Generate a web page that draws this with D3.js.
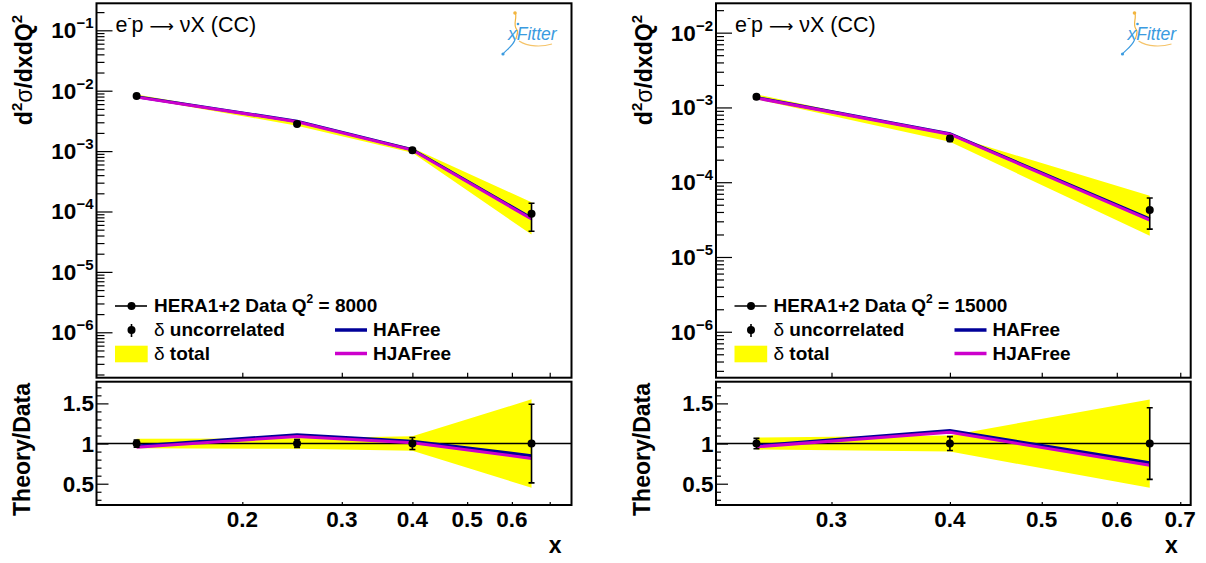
<!DOCTYPE html>
<html><head><meta charset="utf-8">
<script src="https://cdn.jsdelivr.net/npm/d3@7"></script>
<style>body{margin:0;background:#fff} text{font-family:"Liberation Sans",Arial,Helvetica,sans-serif}</style>
</head><body><svg id="c" width="1206" height="563"></svg>
<script>
// ---------- data: Q2 = 8000 ----------
const x8 = [0.13, 0.25, 0.40, 0.65];
const data8 = [8.2e-3, 2.82e-3, 1.03e-3, 9.2e-5];
const uncorr8 = [3.7e-4, 1.4e-4, 7.7e-5, 4.5e-5];
const total8 = [4.9e-4, 1.83e-4, 9.3e-5, 5.06e-5];
const haFree8 = [7.95e-3, 3.13e-3, 1.061e-3, 7.8e-5];
const hjaFree8 = [7.83e-3, 3.07e-3, 1.04e-3, 7.5e-5];
const xTicks8 = [0.2, 0.3, 0.4, 0.5, 0.6, 0.7];
const xLabels8 = ["0.2", "0.3", "0.4", "0.5", "0.6", ""];
const yExp8 = [-1, -2, -3, -4, -5, -6];

// ---------- data: Q2 = 15000 ----------
const x15 = [0.25, 0.40, 0.65];
const data15 = [1.39e-3, 3.85e-4, 4.26e-5];
const uncorr15 = [9.0e-5, 3.3e-5, 1.9e-5];
const total15 = [1.04e-4, 3.85e-5, 2.34e-5];
const haFree15 = [1.355e-3, 4.47e-4, 3.24e-5];
const hjaFree15 = [1.334e-3, 4.39e-4, 3.11e-5];
const xTicks15 = [0.3, 0.4, 0.5, 0.6, 0.7];
const xLabels15 = ["0.3", "0.4", "0.5", "0.6", "0.7"];
const yExp15 = [-2, -3, -4, -5, -6];

const ratioTicks = [0.5, 1, 1.5];
const ratioLabels = ["0.5", "1", "1.5"];
const ratioMinor = [0.3,0.4,0.6,0.7,0.8,0.9,1.1,1.2,1.3,1.4,1.6,1.7];

const svg = d3.select("#c");
const C_HA = "#000099", C_HJA = "#cc00cc", C_BAND = "#ffff00";

function panel(cfg) {
  const L = cfg.L, R = cfg.R, dx = cfg.dx;
  const T1 = 3.3, B1 = 377.7, T2 = 381.7, B2 = 505;
  const xs = d3.scaleLog().domain(cfg.xDomain).range([L, R]);
  const ys = d3.scaleLog().domain(cfg.yDomain).range([B1, T1]);
  const yr = d3.scaleLinear().domain([0.235, 1.77]).range([B2, T2]);
  const pts = cfg.x.map((x, i) => ({x, v: cfg.data[i], u: cfg.uncorr[i], t: cfg.total[i], ha: cfg.ha[i], hja: cfg.hja[i]}));
  const g = svg.append("g");
  const cid = "clip" + dx;
  const defs = svg.append("defs");
  defs.append("clipPath").attr("id", cid + "a").append("rect").attr("x", L).attr("y", T1).attr("width", R - L).attr("height", B1 - T1);
  defs.append("clipPath").attr("id", cid + "b").append("rect").attr("x", L).attr("y", T2).attr("width", R - L).attr("height", B2 - T2);

  // ---- top panel ----
  const top = g.append("g").attr("clip-path", `url(#${cid}a)`);
  top.append("path").datum(pts).attr("fill", C_BAND)
    .attr("d", d3.area().x(d => xs(d.x)).y0(d => ys(d.v - d.t)).y1(d => ys(d.v + d.t)));
  top.append("path").datum(pts).attr("fill", "none").attr("stroke", C_HA).attr("stroke-width", 3)
    .attr("d", d3.line().x(d => xs(d.x)).y(d => ys(d.ha)));
  top.append("path").datum(pts).attr("fill", "none").attr("stroke", C_HJA).attr("stroke-width", 3)
    .attr("d", d3.line().x(d => xs(d.x)).y(d => ys(d.hja)));
  pts.forEach(d => {
    const cx = xs(d.x), y1 = ys(d.v + d.u), y2 = ys(d.v - d.u);
    top.append("line").attr("x1", cx).attr("x2", cx).attr("y1", y1).attr("y2", y2).attr("stroke", "#000").attr("stroke-width", 1.6);
    [y1, y2].forEach(yy => top.append("line").attr("x1", cx - 3).attr("x2", cx + 3).attr("y1", yy).attr("y2", yy).attr("stroke", "#000").attr("stroke-width", 1.6));
    top.append("circle").attr("cx", cx).attr("cy", ys(d.v)).attr("r", 4).attr("fill", "#000");
  });

  // y axis top
  const majors = cfg.yExp.map(e => Math.pow(10, e));
  const minors = [];
  for (let e = -7; e <= 0; e++) for (let k = 2; k <= 9; k++) {
    const v = k * Math.pow(10, e);
    if (v > cfg.yDomain[0] && v < cfg.yDomain[1]) minors.push(v);
  }
  const ax1 = g.append("g").attr("transform", `translate(${L},0)`)
    .call(d3.axisRight(ys).tickValues(majors).tickSize(16).tickFormat(""));
  const ax1m = g.append("g").attr("transform", `translate(${L},0)`)
    .call(d3.axisRight(ys).tickValues(minors).tickSize(8).tickFormat(""));
  [ax1, ax1m].forEach(a => { a.select(".domain").remove(); a.selectAll("line").attr("stroke", "#000").attr("stroke-width", 1.2); });
  cfg.yExp.forEach(e => {
    const y = ys(Math.pow(10, e));
    const t = g.append("text").attr("x", L - 3).attr("y", y + 8).attr("text-anchor", "end")
      .attr("font-weight", "bold").attr("font-size", 22.5);
    t.append("tspan").text("10");
    t.append("tspan").attr("font-size", 15).attr("dy", -10).text("\u2212" + Math.abs(e));
  });
  // x ticks top panel
  const ax2 = g.append("g").attr("transform", `translate(0,${B1})`)
    .call(d3.axisTop(xs).tickValues(cfg.xTicks).tickSize(5).tickFormat(""));
  ax2.select(".domain").remove(); ax2.selectAll("line").attr("stroke", "#000").attr("stroke-width", 1.2);

  g.append("rect").attr("x", L).attr("y", T1).attr("width", R - L).attr("height", B1 - T1)
    .attr("fill", "none").attr("stroke", "#000").attr("stroke-width", 2);

  // process label
  const pl = g.append("text").attr("x", L + 19).attr("y", 32).attr("font-size", 21.5);
  pl.append("tspan").text("e");
  pl.append("tspan").attr("font-size", 12).attr("dy", -10).text("-");
  pl.append("tspan").attr("dy", 10).text("p ");
  pl.append("tspan").attr("style", "font-family:'DejaVu Sans'").attr("font-size", 17).text("\u27f6");
  pl.append("tspan").text(" \u03bdX (CC)");

  // y title
  const yt = g.append("text").attr("transform", `translate(${32 + dx},15) rotate(-90)`)
    .attr("text-anchor", "end").attr("font-weight", "bold").attr("font-size", 23);
  yt.append("tspan").text("d");
  yt.append("tspan").attr("font-size", 15).attr("dy", -10).text("2");
  yt.append("tspan").attr("dy", 10).attr("font-weight", "normal").text("\u03c3");
  yt.append("tspan").text("/dxdQ");
  yt.append("tspan").attr("font-size", 15).attr("dy", -10).text("2");

  // logo
  const lg = g.append("g").attr("transform", `translate(${dx},0)`);
  lg.append("path").attr("d", "M515,12 C518,18 512,24 517,30 C519,33 516,36 516,39").attr("fill", "none").attr("stroke", "#f2b53f").attr("stroke-width", 1.2);
  lg.append("circle").attr("cx", 515).attr("cy", 13).attr("r", 1.8).attr("fill", "#f2b53f");
  lg.append("circle").attr("cx", 518).attr("cy", 24).attr("r", 1.3).attr("fill", "#3b9be0");
  lg.append("path").attr("d", "M515,40 C512,47 506,50 503,54").attr("fill", "none").attr("stroke", "#3b9be0").attr("stroke-width", 1.2);
  lg.append("circle").attr("cx", 503).attr("cy", 54).attr("r", 1.6).attr("fill", "#3b9be0");
  lg.append("path").attr("d", "M519,41 C528,47 542,47 552,44").attr("fill", "none").attr("stroke", "#f5c46a").attr("stroke-width", 1.2);
  lg.append("text").attr("x", 508).attr("y", 40).attr("font-style", "italic").attr("font-size", 17.5)
    .attr("fill", "#3b9be0").text("xFitter");

  // legend
  const lx = 115 + dx;
  g.append("line").attr("x1", lx).attr("x2", lx + 32).attr("y1", 306).attr("y2", 306).attr("stroke", "#000").attr("stroke-width", 1.6);
  g.append("circle").attr("cx", lx + 16.5).attr("cy", 306).attr("r", 4).attr("fill", "#000");
  const t1 = g.append("text").attr("x", lx + 39).attr("y", 312).attr("font-weight", "bold").attr("font-size", 19);
  t1.append("tspan").text("HERA1+2 Data Q");
  t1.append("tspan").attr("font-size", 12).attr("dy", -9).text("2");
  t1.append("tspan").attr("dy", 9).text(" = " + cfg.q2);
  g.append("line").attr("x1", lx + 16.5).attr("x2", lx + 16.5).attr("y1", 324).attr("y2", 337).attr("stroke", "#000").attr("stroke-width", 1.6);
  g.append("circle").attr("cx", lx + 16.5).attr("cy", 330).attr("r", 4).attr("fill", "#000");
  const t2 = g.append("text").attr("x", lx + 39).attr("y", 336).attr("font-weight", "bold").attr("font-size", 19);
  t2.append("tspan").attr("font-weight", "normal").text("\u03b4");
  t2.append("tspan").text(" uncorrelated");
  g.append("rect").attr("x", lx).attr("y", 345.7).attr("width", 32.7).attr("height", 16.6).attr("fill", C_BAND);
  const t3 = g.append("text").attr("x", lx + 39).attr("y", 360).attr("font-weight", "bold").attr("font-size", 19);
  t3.append("tspan").attr("font-weight", "normal").text("\u03b4");
  t3.append("tspan").text(" total");
  const rx = 335 + dx;
  g.append("line").attr("x1", rx).attr("x2", rx + 32).attr("y1", 330).attr("y2", 330).attr("stroke", C_HA).attr("stroke-width", 3.5);
  g.append("text").attr("x", rx + 38).attr("y", 336).attr("font-weight", "bold").attr("font-size", 19).text("HAFree");
  g.append("line").attr("x1", rx).attr("x2", rx + 32).attr("y1", 353.5).attr("y2", 353.5).attr("stroke", C_HJA).attr("stroke-width", 3.5);
  g.append("text").attr("x", rx + 38).attr("y", 360).attr("font-weight", "bold").attr("font-size", 19).text("HJAFree");

  // ---- ratio panel ----
  const bot = g.append("g").attr("clip-path", `url(#${cid}b)`);
  bot.append("path").datum(pts).attr("fill", C_BAND)
    .attr("d", d3.area().x(d => xs(d.x)).y0(d => yr(1 - d.t / d.v)).y1(d => yr(1 + d.t / d.v)));
  bot.append("line").attr("x1", L).attr("x2", R).attr("y1", yr(1)).attr("y2", yr(1)).attr("stroke", "#000").attr("stroke-width", 1.6);
  bot.append("path").datum(pts).attr("fill", "none").attr("stroke", C_HA).attr("stroke-width", 3)
    .attr("d", d3.line().x(d => xs(d.x)).y(d => yr(d.ha / d.v)));
  bot.append("path").datum(pts).attr("fill", "none").attr("stroke", C_HJA).attr("stroke-width", 3)
    .attr("d", d3.line().x(d => xs(d.x)).y(d => yr(d.hja / d.v)));
  pts.forEach(d => {
    const cx = xs(d.x), y1 = yr(1 + d.u / d.v), y2 = yr(1 - d.u / d.v);
    bot.append("line").attr("x1", cx).attr("x2", cx).attr("y1", y1).attr("y2", y2).attr("stroke", "#000").attr("stroke-width", 1.6);
    [y1, y2].forEach(yy => bot.append("line").attr("x1", cx - 3).attr("x2", cx + 3).attr("y1", yy).attr("y2", yy).attr("stroke", "#000").attr("stroke-width", 1.6));
    bot.append("circle").attr("cx", cx).attr("cy", yr(1)).attr("r", 4).attr("fill", "#000");
  });
  const ax3 = g.append("g").attr("transform", `translate(${L},0)`)
    .call(d3.axisRight(yr).tickValues(ratioTicks).tickSize(12).tickFormat(""));
  const ax3m = g.append("g").attr("transform", `translate(${L},0)`)
    .call(d3.axisRight(yr).tickValues(ratioMinor).tickSize(5).tickFormat(""));
  const ax4 = g.append("g").attr("transform", `translate(0,${B2})`)
    .call(d3.axisTop(xs).tickValues(cfg.xTicks).tickSize(3).tickFormat(""));
  [ax3, ax3m, ax4].forEach(a => { a.select(".domain").remove(); a.selectAll("line").attr("stroke", "#000").attr("stroke-width", 1.2); });
  ratioTicks.forEach((v, i) => {
    g.append("text").attr("x", L - 2.5).attr("y", yr(v) + 8).attr("text-anchor", "end")
      .attr("font-weight", "bold").attr("font-size", 22.5).text(ratioLabels[i]);
  });
  cfg.xTicks.forEach((v, i) => {
    g.append("text").attr("x", xs(v)).attr("y", 527).attr("text-anchor", "middle")
      .attr("font-weight", "bold").attr("font-size", 22.5).text(cfg.xLabels[i]);
  });
  g.append("rect").attr("x", L).attr("y", T2).attr("width", R - L).attr("height", B2 - T2)
    .attr("fill", "none").attr("stroke", "#000").attr("stroke-width", 2);
  g.append("text").attr("transform", `translate(${30 + dx},383) rotate(-90)`)
    .attr("text-anchor", "end").attr("font-weight", "bold").attr("font-size", 23).text("Theory/Data");
  g.append("text").attr("x", R - cfg.xTitleOff).attr("y", 553).attr("text-anchor", "end")
    .attr("font-weight", "bold").attr("font-size", 23).text("x");
}

panel({L: 96.5, R: 571.5, dx: 0, xDomain: [0.1104, 0.765], yDomain: [1.77e-7, 0.28],
  x: x8, data: data8, uncorr: uncorr8, total: total8, ha: haFree8, hja: hjaFree8,
  xTicks: xTicks8, xLabels: xLabels8, yExp: yExp8, q2: "8000", xTitleOff: 10});
panel({L: 716, R: 1190.7, dx: 619.5, xDomain: [0.2266, 0.718], yDomain: [2.43e-7, 0.0247],
  x: x15, data: data15, uncorr: uncorr15, total: total15, ha: haFree15, hja: hjaFree15,
  xTicks: xTicks15, xLabels: xLabels15, yExp: yExp15, q2: "15000", xTitleOff: 13});
</script></body></html>
